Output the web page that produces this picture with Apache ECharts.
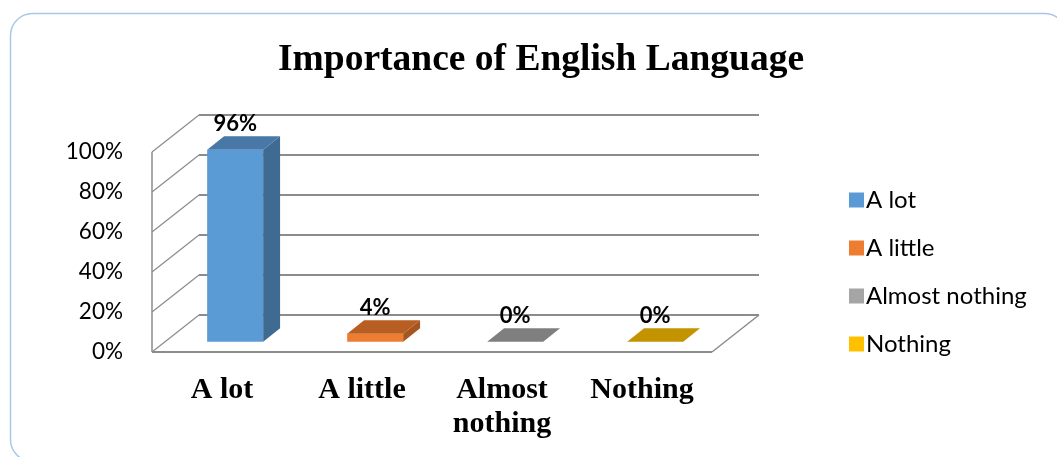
<!DOCTYPE html>
<html>
<head>
<meta charset="utf-8">
<title>Importance of English Language</title>
<script src="https://cdn.jsdelivr.net/npm/echarts@6/dist/echarts.min.js"></script>
<style>
  html, body { margin: 0; padding: 0; background: #ffffff; }
  #chart { width: 1057px; height: 457px; }
</style>
</head>
<body>
<div id="chart"></div>
<script>
// Survey answers and their shares (percent)
const categories = ['A lot', 'A little', 'Almost nothing', 'Nothing'];
const shares = [96, 4, 0, 0];
const yTicks = [0, 20, 40, 60, 80, 100];
const axisLabels = ['A lot', 'A little', 'Almost\nnothing', 'Nothing'];

// Face colours of each 3D column: legend swatch, front, side, top
const palette = [
  { legend: '#5B9BD5', front: '#5B9BD5', side: '#3F6A92', top: '#4878A8' },
  { legend: '#ED7D31', front: '#ED7D31', side: '#A5551F', top: '#B95E22' },
  { legend: '#A5A5A5', front: '#A5A5A5', side: '#727272', top: '#7F7F7F' },
  { legend: '#FFC000', front: '#FFC000', side: '#B08500', top: '#C49300' }
];

// Oblique projection of the plot box: depth offset in pixels
const DEPTH_X = 47;
const DEPTH_Y = -37;
// Columns sit between these depth fractions of the floor
const COL_FRONT = 0.28;
const COL_BACK = 0.64;
const COL_WIDTH = 0.4; // share of a category band

const chart = echarts.init(document.getElementById('chart'), null, { renderer: 'canvas' });

const frameColor = '#8C8C8C';

// Walls and floor of the 3D box, built from the value axis ticks
function renderFrame(params, api) {
  const cs = params.coordSys;
  const left = cs.x, right = cs.x + cs.width;
  const children = [];
  const line = (x1, y1, x2, y2, w) => children.push({
    type: 'line',
    shape: { x1, y1, x2, y2 },
    style: { stroke: frameColor, lineWidth: w || 1.5 }
  });
  yTicks.forEach(function (t) {
    const y = api.coord([0, t])[1];
    // side wall diagonal
    line(left, y, left + DEPTH_X, y + DEPTH_Y, 1.2);
    // back wall line
    line(left + DEPTH_X, y + DEPTH_Y, right + DEPTH_X, y + DEPTH_Y, 1.8);
  });
  const y0 = api.coord([0, 0])[1];
  const yTop = api.coord([0, yTicks[yTicks.length - 1]])[1];
  // front edge of the side wall
  line(left, y0, left, yTop, 1.5);
  // floor front and right edges
  line(left, y0, right, y0, 1.8);
  line(right, y0, right + DEPTH_X, y0 + DEPTH_Y, 1.5);
  return { type: 'group', children: children };
}

// One 3D column with its value label
function makeColumnRenderer(colors) {
  return function (params, api) {
    const cat = api.value(0);
    const val = api.value(1);
    const base = api.coord([cat, 0]);
    const peak = api.coord([cat, val]);
    const band = api.size([1, 0])[0];
    const w = band * COL_WIDTH;
    const xl = base[0] - w / 2 + COL_FRONT * DEPTH_X;
    const xr = xl + w;
    const yb = base[1] + COL_FRONT * DEPTH_Y;
    const yt = peak[1] + COL_FRONT * DEPTH_Y;
    const dx = (COL_BACK - COL_FRONT) * DEPTH_X;
    const dy = (COL_BACK - COL_FRONT) * DEPTH_Y;
    const children = [];
    if (val > 0) {
      children.push({
        type: 'rect',
        shape: { x: xl, y: yt, width: w, height: yb - yt },
        style: { fill: colors.front }
      });
      children.push({
        type: 'polygon',
        shape: { points: [[xr, yt], [xr + dx, yt + dy], [xr + dx, yb + dy], [xr, yb]] },
        style: { fill: colors.side }
      });
    }
    children.push({
      type: 'polygon',
      shape: { points: [[xl, yt], [xr, yt], [xr + dx, yt + dy], [xl + dx, yt + dy]] },
      style: { fill: colors.top }
    });
    children.push({
      type: 'text',
      style: {
        text: val + '%',
        x: (xl + xr) / 2,
        y: yt + dy - 12,
        align: 'center',
        verticalAlign: 'middle',
        fontFamily: 'Lato',
        fontWeight: 'bold',
        fontSize: 22,
        fill: '#000000'
      }
    });
    return { type: 'group', children: children };
  };
}

const columnSeries = categories.map(function (name, i) {
  return {
    name: name,
    type: 'custom',
    coordinateSystem: 'cartesian2d',
    renderItem: makeColumnRenderer(palette[i]),
    itemStyle: { color: palette[i].legend },
    encode: { x: 0, y: 1 },
    data: [[i, shares[i]]],
    z: 3
  };
});

const option = {
  backgroundColor: '#ffffff',
  animation: false,
  title: {
    text: 'Importance of English Language',
    left: 536,
    textAlign: 'center',
    top: 36,
    textStyle: {
      fontFamily: 'Liberation Serif',
      fontWeight: 'bold',
      fontSize: 37.5,
      color: '#000000'
    }
  },
  legend: {
    orient: 'vertical',
    left: 844,
    top: 183,
    itemWidth: 15,
    itemHeight: 15,
    itemGap: 24,
    icon: 'rect',
    data: categories,
    textStyle: { fontFamily: 'Lato', fontSize: 24, color: '#000000', padding: [0, 0, 0, -3] }
  },
  grid: { left: 152, top: 152, width: 560, height: 200, containLabel: false },
  xAxis: {
    type: 'category',
    data: categories,
    axisLine: { show: false },
    axisTick: { show: false },
    splitLine: { show: false },
    axisLabel: {
      margin: 21,
      interval: 0,
      formatter: function (v, idx) { return axisLabels[idx]; },
      fontFamily: 'Liberation Serif',
      fontWeight: 'bold',
      fontSize: 30,
      lineHeight: 34,
      color: '#000000'
    }
  },
  yAxis: {
    type: 'value',
    min: 0,
    max: 100,
    interval: 20,
    axisLine: { show: false },
    axisTick: { show: false },
    splitLine: { show: false },
    axisLabel: {
      margin: 29,
      formatter: '{value}%',
      fontFamily: 'Lato',
      fontSize: 22.5,
      color: '#000000'
    }
  },
  graphic: [{
    type: 'rect',
    left: 8,
    top: 11,
    shape: { width: 1056, height: 448, r: 22 },
    style: { fill: 'none', stroke: '#A8C7EC', lineWidth: 1.5 },
    silent: true,
    z: -1
  }],
  series: [{
    type: 'custom',
    coordinateSystem: 'cartesian2d',
    renderItem: renderFrame,
    encode: { x: 0, y: 1 },
    data: [[0, 0]],
    silent: true,
    z: 1
  }].concat(columnSeries)
};

chart.setOption(option);
</script>
</body>
</html>
